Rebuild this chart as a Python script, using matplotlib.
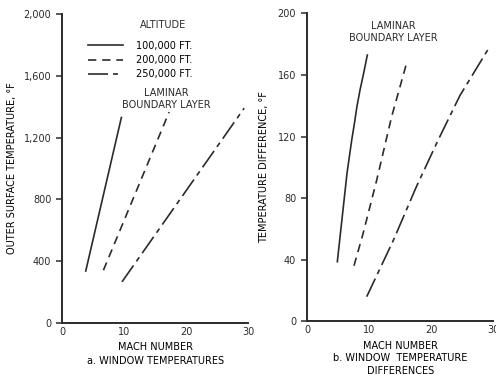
import matplotlib.pyplot as plt

plt.rcParams['font.family'] = ['DejaVu Sans']
plt.rcParams['font.size'] = 7

ink = '#2b2b2b'

# a. window temperatures (outer surface temperature, deg F vs Mach number)
mach_100k_a = [3.75, 9.5]
temp_100k_a = [335, 1330]
mach_200k_a = [6.6, 17.2]
temp_200k_a = [340, 1365]
mach_250k_a = [9.6, 29.3]
temp_250k_a = [265, 1390]

# b. window temperature differences (deg F vs Mach number)
mach_100k_b = [4.84, 5.81, 6.4, 7.16, 7.6, 8.0, 8.5, 9.08, 9.68]
diff_100k_b = [38.7, 74.4, 96.1, 117.7, 128.6, 139.4, 150.2, 161, 172.9]
mach_200k_b = [7.53, 9.0, 11.2, 13.6, 16.0]
diff_200k_b = [36.1, 57.1, 91.8, 132.9, 167.5]
mach_250k_b = [9.58, 13.9, 17.6, 21.1, 24.6, 29.35]
diff_250k_b = [16, 52.8, 87.5, 117.7, 146.5, 177.9]

altitudes = ['100,000 FT.', '200,000 FT.', '250,000 FT.']
yticks_a = [0, 400, 800, 1200, 1600, 2000]
yticklabels_a = ['0', '400', '800', '1,200', '1,600', '2,000']
yticks_b = [0, 40, 80, 120, 160, 200]
xticks = [0, 10, 20, 30]

styles = [
    dict(linestyle='-'),
    dict(linestyle=(0, (5, 3.5))),
    dict(linestyle=(0, (12, 3, 3, 3))),
]

fig = plt.figure(figsize=(4.96, 3.75), dpi=100)
ax1 = fig.add_axes([0.126, 0.1395, 0.375, 0.823])
ax2 = fig.add_axes([0.6196, 0.1432, 0.375, 0.8213])

for ax in (ax1, ax2):
    ax.spines['top'].set_visible(False)
    ax.spines['right'].set_visible(False)
    for s in ('left', 'bottom'):
        ax.spines[s].set_linewidth(1.4)
        ax.spines[s].set_color(ink)
    ax.set_xlim(0, 30)
    ax.set_xticks(xticks)
    ax.tick_params(axis='y', length=4, width=1.1, colors=ink, pad=4)
    ax.tick_params(axis='x', length=0, pad=3, colors=ink)

lines_a = [(mach_100k_a, temp_100k_a), (mach_200k_a, temp_200k_a), (mach_250k_a, temp_250k_a)]
handles = []
for (x, y), st, lab in zip(lines_a, styles, altitudes):
    h, = ax1.plot(x, y, color=ink, lw=1.2, label=lab, **st)
    handles.append(h)

ax1.set_ylim(0, 2000)
ax1.set_yticks(yticks_a)
ax1.set_yticklabels(yticklabels_a)
ax1.set_ylabel('OUTER SURFACE TEMPERATURE, \u00b0F', labelpad=5)
ax1.set_xlabel('MACH NUMBER\na. WINDOW TEMPERATURES', linespacing=1.5, labelpad=4)
ax1.text(0.54, 0.965, 'ALTITUDE', transform=ax1.transAxes, ha='center', va='center', color=ink)
ax1.legend(handles=handles, loc='upper left',
           bbox_to_anchor=(0.09, 0.942), frameon=False, handlelength=3.6,
           handletextpad=1.3, labelspacing=0.45, fontsize=7)
ax1.text(0.56, 0.69, 'LAMINAR\nBOUNDARY LAYER', transform=ax1.transAxes,
         ha='center', va='bottom', linespacing=1.2, color=ink)

lines_b = [(mach_100k_b, diff_100k_b), (mach_200k_b, diff_200k_b), (mach_250k_b, diff_250k_b)]
for (x, y), st in zip(lines_b, styles):
    ax2.plot(x, y, color=ink, lw=1.2, **st)

ax2.set_ylim(0, 200)
ax2.set_yticks(yticks_b)
ax2.set_ylabel('TEMPERATURE DIFFERENCE, \u00b0F', labelpad=6)
ax2.set_xlabel('MACH NUMBER\nb. WINDOW  TEMPERATURE\nDIFFERENCES', linespacing=1.3, labelpad=4)
ax2.text(0.46, 0.905, 'LAMINAR\nBOUNDARY LAYER', transform=ax2.transAxes,
         ha='center', va='bottom', linespacing=1.2, color=ink)

fig.savefig('out.png', dpi=100)
